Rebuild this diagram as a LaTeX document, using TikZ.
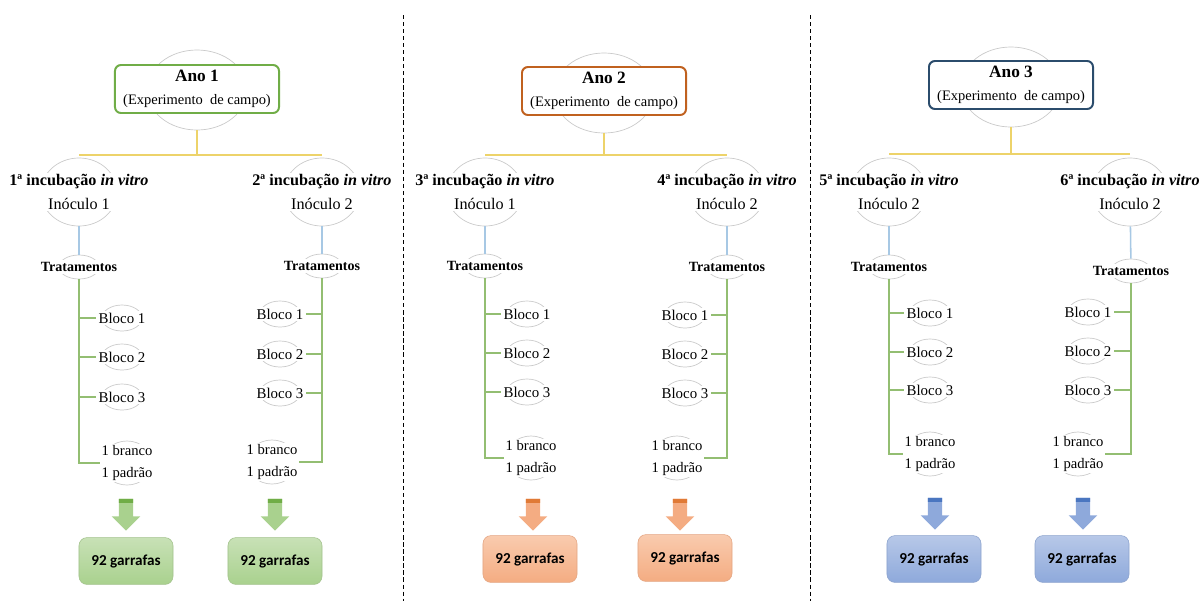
\documentclass[tikz,border=0pt]{standalone}
\usepackage{fontspec}
\setmainfont{Liberation Serif}
\newfontfamily\calib{Carlito}
\usetikzlibrary{shapes.geometric,shapes.arrows}

\definecolor{haloc}{HTML}{CACACA}
\definecolor{yelc}{HTML}{EDD36A}
\definecolor{bluc}{HTML}{A7C8E4}
\definecolor{grnc}{HTML}{93BE72}
\definecolor{anoA}{HTML}{70AD47}
\definecolor{anoB}{HTML}{C0611F}
\definecolor{anoC}{HTML}{2B4C6C}
% cores das setas e caixas
\definecolor{gA}{HTML}{A9D18E}
\definecolor{gB}{HTML}{C8E1B6}
\definecolor{gD}{HTML}{70AD47}
\definecolor{oA}{HTML}{F4AC82}
\definecolor{oB}{HTML}{F9CBAE}
\definecolor{oD}{HTML}{E07A36}
\definecolor{bA}{HTML}{8EA9DB}
\definecolor{bB}{HTML}{B7C8E8}
\definecolor{bD}{HTML}{4A76C0}

\begin{document}
\begin{tikzpicture}[
    x=0.025cm, y=-0.025cm,
    halo/.style={ellipse, draw=haloc, line width=0.5pt, inner sep=0pt},
    anohalo/.style={halo, minimum width=2.5cm, minimum height=2cm},
    inchalo/.style={halo, minimum width=1.9cm, minimum height=1.7cm},
    trathalo/.style={halo, minimum width=1cm, minimum height=0.6cm},
    blochalo/.style={halo, minimum width=1cm, minimum height=0.65cm},
    bphalo/.style={halo, minimum width=1.25cm, minimum height=1.1cm},
    ano/.style={
      draw=#1, fill=white,
      rounded corners=0.15cm,
      line width=1.4pt,
      minimum width=4.1cm,
      minimum height=1.2cm,
      align=center,
      inner sep=0pt,
      font=\fontsize{12.3}{16}\selectfont
    },
    inc/.style={fill=white, align=center, inner sep=1pt, font=\fontsize{11.5}{17}\selectfont},
    trat/.style={fill=white, inner sep=2pt, font=\fontsize{10}{12}\selectfont\bfseries},
    bloco/.style={fill=white, inner sep=1.5pt, font=\fontsize{10.6}{13}\selectfont},
    bp/.style={fill=white, align=center, inner sep=1pt, font=\fontsize{10.4}{15}\selectfont},
    seta/.style 2 args={
      single arrow,
      shape border rotate=270,
      minimum height=0.8cm,
      inner sep=0.17cm,
      single arrow head extend=0.18cm,
      fill=#1,
      path picture={\fill[#2] (path picture bounding box.north west) rectangle ([yshift=-0.1cm]path picture bounding box.north east);}
    },
    garr/.style n args={3}{
      draw=#1, top color=#2, bottom color=#3,
      rounded corners=0.2cm,
      minimum width=2.35cm,
      minimum height=1.17cm,
      font=\calib\fontsize{10.8}{13}\selectfont\bfseries
    },
    yel/.style={draw=yelc, line width=1.1pt},
    blu/.style={draw=bluc, line width=1.1pt},
    grn/.style={draw=grnc, line width=1.1pt}
  ]

  \useasboundingbox (0,0) rectangle (1203,601);

  \draw[dash pattern=on 3pt off 2pt, line width=0.6pt] (403,15) -- (403,601);
  \draw[dash pattern=on 3pt off 2pt, line width=0.6pt] (810,15) -- (810,601);

  % Ano 1
  \node (hano1) at (197,90) [anohalo] {};
  \node (ano1) at (197,89) [ano=anoA] {\textbf{Ano 1}\\{\fontsize{10.3}{12}\selectfont (Experimento~ de campo)}};
  \coordinate (j1) at (197,155);

  \node (hinc1) at (79,192) [inchalo] {};
  \node (inc1) at (hinc1) [inc] {\textbf{1ª incubação \textit{in vitro}}\\Inóculo 1};
  \node (hinc2) at (322,192) [inchalo] {};
  \node (inc2) at (hinc2) [inc] {\textbf{2ª incubação \textit{in vitro}}\\Inóculo 2};

  \node (htrat1) at (79,267) [trathalo] {};
  \node (trat1) at (htrat1) [trat] {Tratamentos};
  \node (htrat2) at (322,266) [trathalo] {};
  \node (trat2) at (htrat2) [trat] {Tratamentos};

  \node (hb11) at (122,318) [blochalo] {};
  \node (b11) at (hb11) [bloco] {Bloco 1};
  \node (hb12) at (122,357) [blochalo] {};
  \node (b12) at (hb12) [bloco] {Bloco 2};
  \node (hb13) at (122,397) [blochalo] {};
  \node (b13) at (hb13) [bloco] {Bloco 3};
  \node (hb21) at (280,314) [blochalo] {};
  \node (b21) at (hb21) [bloco] {Bloco 1};
  \node (hb22) at (280,354) [blochalo] {};
  \node (b22) at (hb22) [bloco] {Bloco 2};
  \node (hb23) at (280,393) [blochalo] {};
  \node (b23) at (hb23) [bloco] {Bloco 3};

  \node (hbp1) at (127,463) [bphalo] {};
  \node (bp1) at (hbp1) [bp] {1 branco\\1 padrão};
  \node (hbp2) at (272,462) [bphalo] {};
  \node (bp2) at (hbp2) [bp] {1 branco\\1 padrão};

  \node (seta1) at (126,511) [seta={gA}{gD}] {};
  \node (seta2) at (275,511) [seta={gA}{gD}] {};
  \node (g1) at (126,561) [garr={gA!80!gray}{gB}{gA}] {92 garrafas};
  \node (g2) at (275,561) [garr={gA!80!gray}{gB}{gA}] {92 garrafas};

  \draw[yel] (hano1) -- (j1);
  \draw[yel] (hinc1 |- j1) -- (hinc2 |- j1);
  \draw[blu] (hinc1) -- (htrat1);
  \draw[blu] (hinc2) -- (htrat2);
  \draw[grn] (htrat1) -- (htrat1 |- bp1) -- (bp1.west);
  \draw[grn] (htrat1 |- b11) -- (b11.west);
  \draw[grn] (htrat1 |- b12) -- (b12.west);
  \draw[grn] (htrat1 |- b13) -- (b13.west);
  \draw[grn] (htrat2) -- (htrat2 |- bp2) -- (bp2.east);
  \draw[grn] (htrat2 |- b21) -- (b21.east);
  \draw[grn] (htrat2 |- b22) -- (b22.east);
  \draw[grn] (htrat2 |- b23) -- (b23.east);

  % Ano 2
  \node (hano2) at (604,93) [anohalo] {};
  \node (ano2) at (604,91) [ano=anoB] {\textbf{Ano 2}\\{\fontsize{10.3}{12}\selectfont (Experimento~ de campo)}};
  \coordinate (j2) at (604,155);

  \node (hinc3) at (485,192) [inchalo] {};
  \node (inc3) at (hinc3) [inc] {\textbf{3ª incubação \textit{in vitro}}\\Inóculo 1};
  \node (hinc4) at (727,192) [inchalo] {};
  \node (inc4) at (hinc4) [inc] {\textbf{4ª incubação \textit{in vitro}}\\Inóculo 2};

  \node (htrat3) at (485,266) [trathalo] {};
  \node (trat3) at (htrat3) [trat] {Tratamentos};
  \node (htrat4) at (727,267) [trathalo] {};
  \node (trat4) at (htrat4) [trat] {Tratamentos};

  \node (hb31) at (527,314) [blochalo] {};
  \node (b31) at (hb31) [bloco] {Bloco 1};
  \node (hb32) at (527,353) [blochalo] {};
  \node (b32) at (hb32) [bloco] {Bloco 2};
  \node (hb33) at (527,392) [blochalo] {};
  \node (b33) at (hb33) [bloco] {Bloco 3};
  \node (hb41) at (685,315) [blochalo] {};
  \node (b41) at (hb41) [bloco] {Bloco 1};
  \node (hb42) at (685,354) [blochalo] {};
  \node (b42) at (hb42) [bloco] {Bloco 2};
  \node (hb43) at (685,393) [blochalo] {};
  \node (b43) at (hb43) [bloco] {Bloco 3};

  \node (hbp3) at (531,458) [bphalo] {};
  \node (bp3) at (hbp3) [bp] {1 branco\\1 padrão};
  \node (hbp4) at (677,458) [bphalo] {};
  \node (bp4) at (hbp4) [bp] {1 branco\\1 padrão};

  \node (seta3) at (533,511) [seta={oA}{oD}] {};
  \node (seta4) at (680,511) [seta={oA}{oD}] {};
  \node (g3) at (530,559) [garr={oA!85!gray}{oB}{oA}] {92 garrafas};
  \node (g4) at (685,558) [garr={oA!85!gray}{oB}{oA}] {92 garrafas};

  \draw[yel] (hano2) -- (j2);
  \draw[yel] (hinc3 |- j2) -- (hinc4 |- j2);
  \draw[blu] (hinc3) -- (htrat3);
  \draw[blu] (hinc4) -- (htrat4);
  \draw[grn] (htrat3) -- (htrat3 |- bp3) -- (bp3.west);
  \draw[grn] (htrat3 |- b31) -- (b31.west);
  \draw[grn] (htrat3 |- b32) -- (b32.west);
  \draw[grn] (htrat3 |- b33) -- (b33.west);
  \draw[grn] (htrat4) -- (htrat4 |- bp4) -- (bp4.east);
  \draw[grn] (htrat4 |- b41) -- (b41.east);
  \draw[grn] (htrat4 |- b42) -- (b42.east);
  \draw[grn] (htrat4 |- b43) -- (b43.east);

  % Ano 3
  \node (hano3) at (1011,87) [anohalo] {};
  \node (ano3) at (1011,85) [ano=anoC] {\textbf{Ano 3}\\{\fontsize{10.3}{12}\selectfont (Experimento~ de campo)}};
  \coordinate (j3) at (1011,154);

  \node (hinc5) at (889,192) [inchalo] {};
  \node (inc5) at (hinc5) [inc] {\textbf{5ª incubação \textit{in vitro}}\\Inóculo 2};
  \node (hinc6) at (1130,192) [inchalo] {};
  \node (inc6) at (hinc6) [inc] {\textbf{6ª incubação \textit{in vitro}}\\Inóculo 2};

  \node (htrat5) at (889,267) [trathalo] {};
  \node (trat5) at (htrat5) [trat] {Tratamentos};
  \node (htrat6) at (1131,271) [trathalo] {};
  \node (trat6) at (htrat6) [trat] {Tratamentos};

  \node (hb51) at (930,313) [blochalo] {};
  \node (b51) at (hb51) [bloco] {Bloco 1};
  \node (hb52) at (930,352) [blochalo] {};
  \node (b52) at (hb52) [bloco] {Bloco 2};
  \node (hb53) at (930,390) [blochalo] {};
  \node (b53) at (hb53) [bloco] {Bloco 3};
  \node (hb61) at (1088,312) [blochalo] {};
  \node (b61) at (hb61) [bloco] {Bloco 1};
  \node (hb62) at (1088,351) [blochalo] {};
  \node (b62) at (hb62) [bloco] {Bloco 2};
  \node (hb63) at (1088,390) [blochalo] {};
  \node (b63) at (hb63) [bloco] {Bloco 3};

  \node (hbp5) at (930,454) [bphalo] {};
  \node (bp5) at (hbp5) [bp] {1 branco\\1 padrão};
  \node (hbp6) at (1078,454) [bphalo] {};
  \node (bp6) at (hbp6) [bp] {1 branco\\1 padrão};

  \node (seta5) at (935,510) [seta={bA}{bD}] {};
  \node (seta6) at (1083,510) [seta={bA}{bD}] {};
  \node (g5) at (934,559) [garr={bA!85!gray}{bB}{bA}] {92 garrafas};
  \node (g6) at (1082,559) [garr={bA!85!gray}{bB}{bA}] {92 garrafas};

  \draw[yel] (hano3) -- (j3);
  \draw[yel] (hinc5 |- j3) -- (hinc6 |- j3);
  \draw[blu] (hinc5) -- (htrat5);
  \draw[blu] (hinc6) -- (htrat6);
  \draw[grn] (htrat5) -- (htrat5 |- bp5) -- (bp5.west);
  \draw[grn] (htrat5 |- b51) -- (b51.west);
  \draw[grn] (htrat5 |- b52) -- (b52.west);
  \draw[grn] (htrat5 |- b53) -- (b53.west);
  \draw[grn] (htrat6) -- (htrat6 |- bp6) -- (bp6.east);
  \draw[grn] (htrat6 |- b61) -- (b61.east);
  \draw[grn] (htrat6 |- b62) -- (b62.east);
  \draw[grn] (htrat6 |- b63) -- (b63.east);

\end{tikzpicture}
\end{document}
